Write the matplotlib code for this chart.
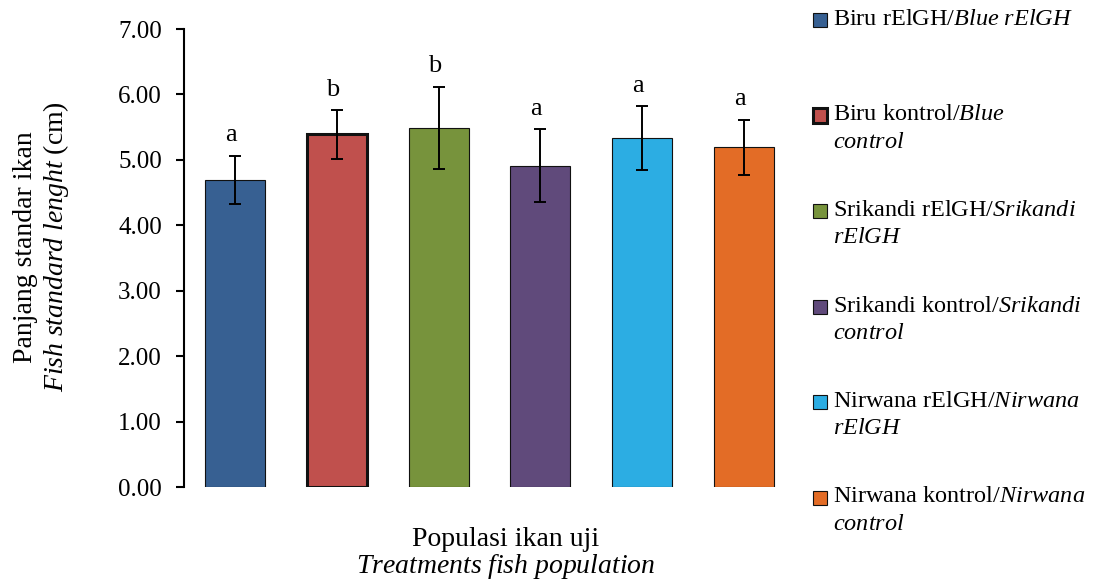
import matplotlib
matplotlib.use("Agg")
import matplotlib.pyplot as plt
from matplotlib.patches import Rectangle

plt.rcParams['font.family'] = ['Liberation Serif', 'DejaVu Serif']
plt.rcParams['mathtext.fontset'] = 'custom'
plt.rcParams['mathtext.rm'] = 'Liberation Serif'
plt.rcParams['mathtext.it'] = 'Liberation Serif:italic'

# ---- data ----
categories = ["Biru rElGH", "Biru kontrol", "Srikandi rElGH",
              "Srikandi kontrol", "Nirwana rElGH", "Nirwana kontrol"]
values = [4.69, 5.39, 5.49, 4.91, 5.33, 5.19]
errors = [0.37, 0.37, 0.63, 0.56, 0.49, 0.42]
letters = ["a", "b", "b", "a", "a", "a"]
legend_labels = [
    r"Biru rElGH/$\it{Blue\ rElGH}$",
    "Biru kontrol/$\\it{Blue}$\n$\\it{control}$",
    "Srikandi rElGH/$\\it{Srikandi}$\n$\\it{rElGH}$",
    "Srikandi kontrol/$\\it{Srikandi}$\n$\\it{control}$",
    "Nirwana rElGH/$\\it{Nirwana}$\n$\\it{rElGH}$",
    "Nirwana kontrol/$\\it{Nirwana}$\n$\\it{control}$",
]
yticks = [0, 1, 2, 3, 4, 5, 6, 7]
colors = ["#376092", "#C0504D", "#77933C", "#604A7B", "#2CADE3", "#E36C26"]
edge_widths = [0.8, 2.2, 0.8, 0.8, 0.8, 0.8]

W, H = 1109, 587
fig = plt.figure(figsize=(W / 100, H / 100), dpi=100)
ax = fig.add_axes([184 / W, 1 - 487 / H, (795 - 184) / W, (487 - 29) / H])

x = list(range(len(categories)))
ax.bar(x, values, width=0.59, color=colors, edgecolor="#111111",
       linewidth=edge_widths, zorder=2)
ax.errorbar(x, values, yerr=errors, fmt="none", ecolor="black",
            elinewidth=1.4, capsize=4.2, capthick=1.4, zorder=3)
for xi, v, e, l in zip(x, values, errors, letters):
    ax.annotate(l, (xi, v + e), xytext=(-3, 10.5), textcoords="offset points",
                ha="center", va="baseline", fontsize=19)

ax.set_xlim(-0.5, len(categories) - 0.5)
ax.set_ylim(0, 7)
ax.set_yticks(yticks)
ax.set_yticklabels([f"{t:.2f}" for t in yticks], fontsize=18)
ax.set_xticks([])
for s in ["top", "right", "bottom"]:
    ax.spines[s].set_visible(False)
ax.spines["left"].set_linewidth(1.5)
ax.tick_params(axis="y", direction="out", length=6, width=1.5, pad=10)

# axis titles
fig.text(506 / W, 1 - 546 / H, "Populasi ikan uji", ha="center", va="baseline",
         fontsize=20)
fig.text(506 / W, 1 - 573 / H, r"$\it{Treatments\ fish\ population}$",
         ha="center", va="baseline", fontsize=20)
fig.text(26 / W, 1 - 247 / H, "Panjang standar ikan", rotation=90,
         ha="center", va="center", fontsize=20)
fig.text(56 / W, 1 - 247 / H, r"$\it{Fish\ standard\ lenght}$ (cm)", rotation=90,
         ha="center", va="center", fontsize=20)

# legend (manual, to align the swatch with the first line)
top0 = 20
step = 95.5
for i, (lab, c, lw) in enumerate(zip(legend_labels, colors, edge_widths)):
    yc = top0 + i * step
    fig.patches.append(Rectangle((813 / W, 1 - (yc + 7) / H), 14 / W, 14 / H,
                                 transform=fig.transFigure, facecolor=c,
                                 edgecolor="#111111", linewidth=lw))
    fig.text(833 / W, 1 - (yc - 11) / H, lab, ha="left", va="top",
             fontsize=17.5, linespacing=1.4)

fig.savefig("out.png", dpi=100)
